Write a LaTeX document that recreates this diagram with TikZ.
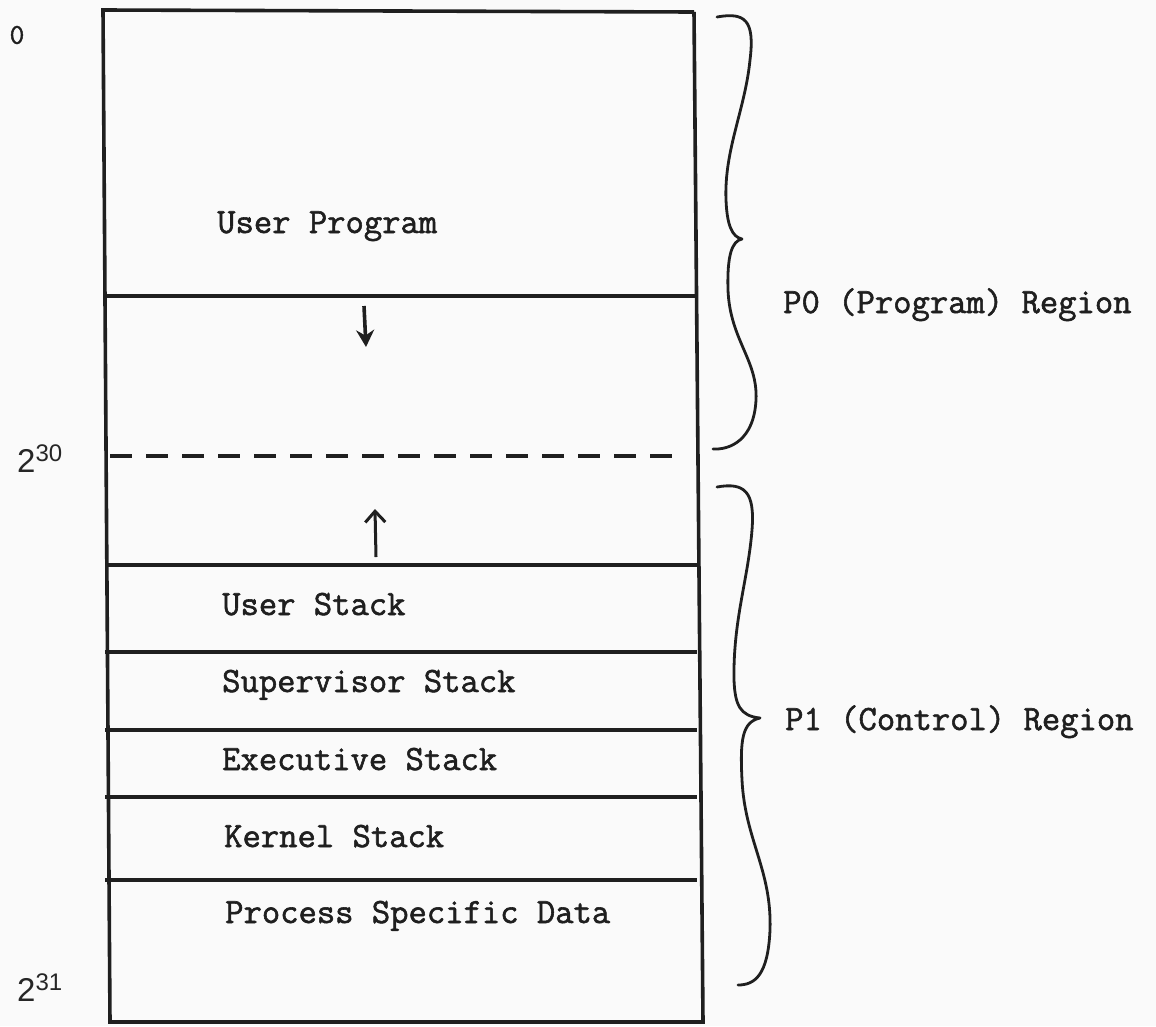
\documentclass[tikz,border=0pt]{standalone}
\usepackage{fontspec}
\usepackage{graphicx}
\newfontfamily\labsans{Liberation Sans}
\newfontfamily\twfont{Latin Modern Mono}[FakeBold=1.6]
\usetikzlibrary{arrows.meta}
\begin{document}
\begin{tikzpicture}[x=1pt,y=-1pt,
  rule/.style={line width=3.2pt,black!88},
  brace/.style={line width=2.8pt,black!88,line cap=round,line join=round},
  tw/.style={font=\twfont\fontsize{35.6}{40}\selectfont,text=black!88,inner sep=0pt,anchor=base west},
  exp/.style={inner sep=0pt,anchor=base west,text=black!85}]
\useasboundingbox (0,0) rectangle (1156,1026);
\fill[white!96!gray] (0,0) rectangle (1156,1026);
% box corners
\coordinate (tl) at (103,10);
\coordinate (tr) at (694,12);
\coordinate (bl) at (110,1022);
\coordinate (br) at (703,1022);
\draw[rule,line width=3.6pt,line join=miter] (tr) -- (tl) -- (bl) -- (br) -- (tr);
% dividers
\foreach \n/\y in {a/296,b/565,c/652,d/730,e/797,f/880}{
  \coordinate (\n L) at (105,\y);
  \coordinate (\n R) at (697,\y);
  \draw[rule] (\n L) -- (\n R);
}
\coordinate (dL) at (110,456);
\coordinate (dR) at (675,456);
\draw[rule,dash pattern=on 22pt off 14pt] (dL) -- (dR);
% arrows
\coordinate (d1) at (364,306);
\coordinate (d2) at (366,347);
\draw[line width=3.6pt,black!88,-{Stealth[length=17pt,width=18pt]}] (d1) -- (d2);
\coordinate (u1) at (376,557);
\coordinate (u2) at (375,509);
\draw[line width=3pt,black!88,-{Straight Barb[length=11pt,width=20pt,line width=3pt]}] (u1) -- (u2);
% braces
\draw[brace] (717,17) .. controls (745,12) and (755,20) .. (750,60)
  .. controls (745,110) and (724,150) .. (726,200)
  .. controls (727,225) and (732,237) .. (742,239)
  .. controls (732,241) and (727,255) .. (728,290)
  .. controls (730,340) and (758,360) .. (756,400)
  .. controls (754,440) and (730,450) .. (713,449);
\draw[brace] (717,487) .. controls (745,482) and (755,492) .. (752,530)
  .. controls (748,580) and (733,620) .. (734,680)
  .. controls (735,705) and (740,716) .. (760,718)
  .. controls (742,722) and (740,740) .. (742,780)
  .. controls (745,840) and (772,870) .. (770,930)
  .. controls (768,975) and (755,985) .. (738,985);
% texts
\node[tw] (up) at (217,233) {User Program};
\node[tw] (us) at (222,615) {User Stack};
\node[tw] (ss) at (222,692) {Supervisor Stack};
\node[tw] (es) at (222,770) {Executive Stack};
\node[tw] (ks) at (224,847) {Kernel Stack};
\node[tw] (pd) at (225,923) {Process Specific Data};
\node[tw,anchor=center] (zero) at (17,35) {\scalebox{0.8}{0}};
\node[exp] (e30) at (17,472) {\labsans\fontsize{33}{33}\selectfont 2\raisebox{11pt}{\fontsize{24}{24}\selectfont 30}};
\node[exp] (e31) at (17,1001) {\labsans\fontsize{33}{33}\selectfont 2\raisebox{11pt}{\fontsize{24}{24}\selectfont 31}};
\node[tw] (p0) at (783,313) {P0 (Program) Region};
\node[tw] (p1) at (785,730) {P1 (Control) Region};
\end{tikzpicture}
\end{document}
